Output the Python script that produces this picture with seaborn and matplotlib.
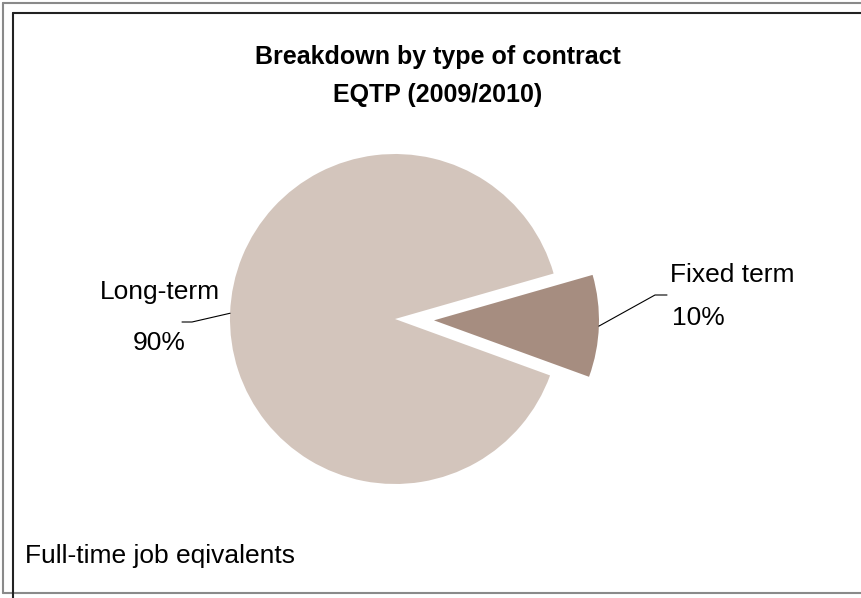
import numpy as np
import matplotlib.pyplot as plt
import seaborn as sns

# data
categories = ["Long-term", "Fixed term"]
shares = [90, 10]
colors = ["#d3c5bc", "#a68d80"]

title = "Breakdown by type of contract\nEQTP (2009/2010)"
note = "Full-time job eqivalents"

sns.set_theme(style="white")
plt.rcParams['font.family'] = ['Liberation Sans', 'DejaVu Sans']

W, H = 861, 598
fig = plt.figure(figsize=(W / 100, H / 100), dpi=100)
ax = fig.add_axes([0, 0, 1, 1])

# explode is in data units (pixels here)
wedges, _ = ax.pie(shares, colors=colors, startangle=16, counterclock=True,
                   explode=[0, 39], radius=165, center=(395, H - 319),
                   frame=True, wedgeprops=dict(linewidth=0))
ax.set_xlim(0, W)
ax.set_ylim(0, H)
ax.set_aspect('auto')
ax.axis('off')

# leader lines + labels (layout in pixels from top-left)
layout = {
    "Long-term": dict(elbow=(192, 322), end=(182, 322), name=(160, 292, 'center'), pct=(159, 343, 'center')),
    "Fixed term": dict(elbow=(655, 295), end=(667, 295), name=(670, 275, 'left'), pct=(672, 318, 'left')),
}
total = sum(shares)
for w, cat, val in zip(wedges, categories, shares):
    mid = np.deg2rad((w.theta1 + w.theta2) / 2)
    px, py = w.center[0] + w.r * np.cos(mid), w.center[1] + w.r * np.sin(mid)
    lay = layout[cat]
    ex, ey = lay["elbow"]
    nx, ny = lay["end"]
    ax.plot([px, ex, nx], [py, H - ey, H - ny], color="black", lw=0.8)
    x, y, ha = lay["name"]
    ax.text(x, H - y, cat, fontsize=19, ha=ha, va='center', color="black")
    x, y, ha = lay["pct"]
    ax.text(x, H - y, f"{val / total * 100:.0f}%", fontsize=19, ha=ha, va='center', color="black")

ax.text(438, H - 76, title, fontsize=18, fontweight='bold', ha='center', va='center',
        linespacing=1.75, color="black")
ax.text(25, H - 556, note, fontsize=19, ha='left', va='center', color="black")

# frames
ax.plot([3, 3], [H - 3, H - 593], color="#8a8a8a", lw=1.5)
ax.plot([3, W], [H - 3, H - 3], color="#8a8a8a", lw=1.5)
ax.plot([3, W], [H - 593, H - 593], color="#8a8a8a", lw=1.5)
ax.plot([13, 13], [H - 13, 0], color="#222222", lw=1.5)
ax.plot([13, W], [H - 13, H - 13], color="#222222", lw=1.5)

fig.savefig("out.png", dpi=100)
